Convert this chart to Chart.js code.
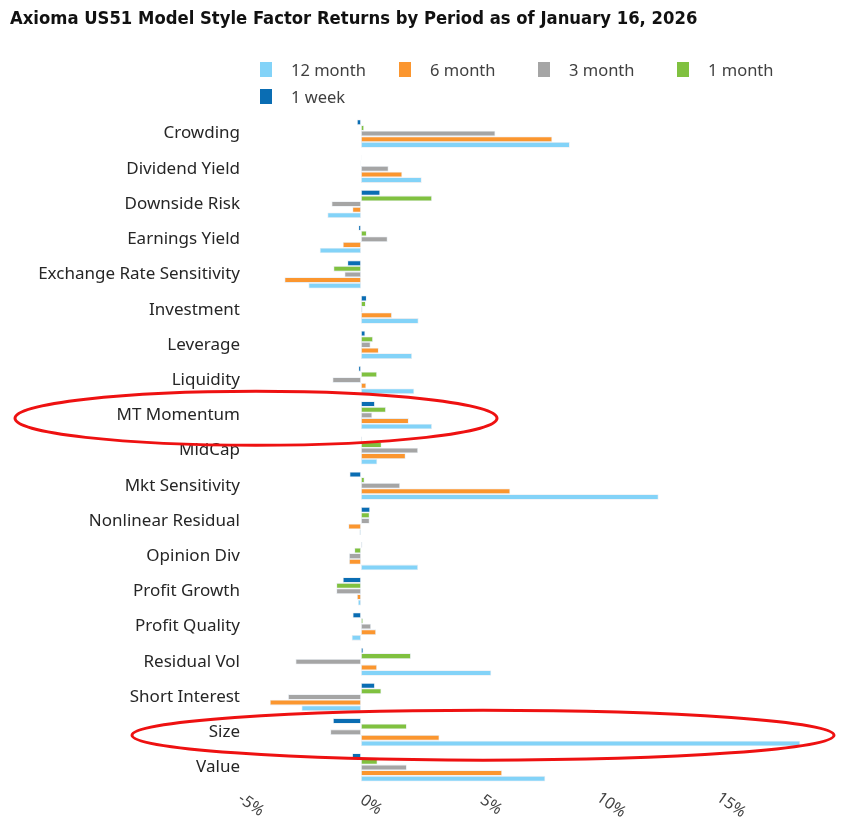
<!DOCTYPE html>
<html>
<head>
<meta charset="utf-8">
<script src="https://cdn.jsdelivr.net/npm/chart.js@4.4.1/dist/chart.umd.min.js"></script>
<style>
  html, body { margin: 0; padding: 0; background: #fff; }
  #wrap { position: relative; width: 847px; height: 832px; overflow: hidden; }
  #title { position: absolute; left: 10px; top: 7px; font: bold 18.3px "Liberation Sans Narrow", "DejaVu Sans Condensed", sans-serif; color: #111; white-space: nowrap; }
  #legend { position: absolute; left: 260px; top: 56px; width: 580px; display: flex; flex-wrap: wrap; }
  .item { width: 139px; height: 27px; display: flex; align-items: center; font: 16.5px "Noto Sans", sans-serif; color: #404040; }
  .box { width: 12px; height: 15px; margin-right: 19px; }
  canvas { position: absolute; left: 0; top: 0; }
</style>
</head>
<body>
<div id="wrap">
  <canvas id="chart" width="847" height="832"></canvas>
  <div id="title">Axioma US51 Model Style Factor Returns by Period as of January 16, 2026</div>
  <div id="legend"></div>
</div>
<script>
var categories = ['Crowding', 'Dividend Yield', 'Downside Risk', 'Earnings Yield', 'Exchange Rate Sensitivity',
  'Investment', 'Leverage', 'Liquidity', 'MT Momentum', 'MidCap', 'Mkt Sensitivity', 'Nonlinear Residual',
  'Opinion Div', 'Profit Growth', 'Profit Quality', 'Residual Vol', 'Short Interest', 'Size', 'Value'];

var week1   = [-0.17, 0.02, 0.80, -0.11, -0.57, 0.24, 0.18, -0.11, 0.58, 0.05, -0.48, 0.38, 0.06, -0.76, -0.35, 0.10, 0.58, -1.17, -0.37];
var month1  = [0.13, -0.02, 2.96, 0.24, -1.15, 0.20, 0.50, 0.67, 1.04, 0.86, 0.15, 0.36, -0.28, -1.03, 0.09, 2.08, 0.85, 1.91, 0.69];
var month3  = [5.60, 1.15, -1.23, 1.11, -0.69, 0.07, 0.40, -1.19, 0.47, 2.38, 1.63, 0.36, -0.50, -1.03, 0.42, -2.73, -3.04, -1.28, 1.91];
var month6  = [7.97, 1.72, -0.36, -0.76, -3.19, 1.29, 0.74, 0.22, 1.99, 1.86, 6.22, -0.53, -0.50, -0.17, 0.63, 0.67, -3.80, 3.27, 5.88];
var month12 = [8.70, 2.53, -1.40, -1.72, -2.19, 2.40, 2.13, 2.22, 2.96, 0.68, 12.40, -0.07, 2.38, -0.13, -0.39, 5.43, -2.48, 18.30, 7.68];

var tickValues = [-5, 0, 5, 10, 15];
var tickLabels = ['-5%', '0%', '5%', '10%', '15%'];

// bars are stacked top to bottom in this order inside each group
var series = [
  { label: '1 week', data: week1, color: '#0a6db3' },
  { label: '1 month', data: month1, color: '#80c140' },
  { label: '3 month', data: month3, color: '#a5a5a5' },
  { label: '6 month', data: month6, color: '#fb962f' },
  { label: '12 month', data: month12, color: '#83d3f8' }
];

// red ellipses drawn over the picture: category index, centre x, radii
var highlights = [
  { index: 8, cx: 256, rx: 241, ry: 27 },
  { index: 17, cx: 483, rx: 351, ry: 25 }
];

var overlay = {
  id: 'overlay',
  afterDraw: function (chart) {
    var ctx = chart.ctx;
    var xs = chart.scales.x, ys = chart.scales.y;
    ctx.save();
    ctx.fillStyle = '#404040';
    ctx.font = '16px "Noto Sans", sans-serif';
    ctx.textAlign = 'center';
    ctx.textBaseline = 'middle';
    tickValues.forEach(function (v, i) {
      ctx.save();
      ctx.translate(xs.getPixelForValue(v) + 10, 805);
      ctx.rotate(35 * Math.PI / 180);
      ctx.fillText(tickLabels[i], 0, 0);
      ctx.restore();
    });
    ctx.strokeStyle = '#ee1111';
    ctx.lineWidth = 3;
    highlights.forEach(function (h) {
      ctx.beginPath();
      ctx.ellipse(h.cx, ys.getPixelForValue(h.index) + 3, h.rx, h.ry, 0, 0, 2 * Math.PI);
      ctx.stroke();
    });
    ctx.restore();
  }
};

var ctx = document.getElementById('chart');
var chart = new Chart(ctx, {
  type: 'bar',
  data: {
    labels: categories,
    datasets: series.map(function (s) {
      return {
        label: s.label,
        data: s.data,
        backgroundColor: s.color,
        borderColor: '#e6ecf1',
        borderWidth: 0.8,
        borderSkipped: false,
        categoryPercentage: 0.8,
        barPercentage: 1.0
      };
    })
  },
  options: {
    indexAxis: 'y',
    responsive: false,
    animation: false,
    layout: { padding: { top: 116, bottom: 47, left: 0, right: 6 } },
    plugins: { legend: { display: false }, title: { display: false }, tooltip: { enabled: false } },
    scales: {
      x: {
        min: -5, max: 20,
        ticks: { display: false, stepSize: 5 },
        grid: { display: false, drawTicks: false },
        border: { display: false },
        afterFit: function (s) { s.height = 0; }
      },
      y: {
        ticks: { font: { family: 'Noto Sans', size: 17 }, color: '#262626', padding: 1 },
        grid: { display: false, drawTicks: false },
        border: { display: false },
        afterFit: function (s) { s.width = 241; }
      }
    }
  },
  plugins: [overlay]
});

// legend: 12 month first, as in the original
var legend = document.getElementById('legend');
series.slice().reverse().forEach(function (s) {
  var item = document.createElement('div');
  item.className = 'item';
  item.innerHTML = '<span class="box" style="background:' + s.color + '"></span>' + s.label;
  legend.appendChild(item);
});
</script>
</body>
</html>
